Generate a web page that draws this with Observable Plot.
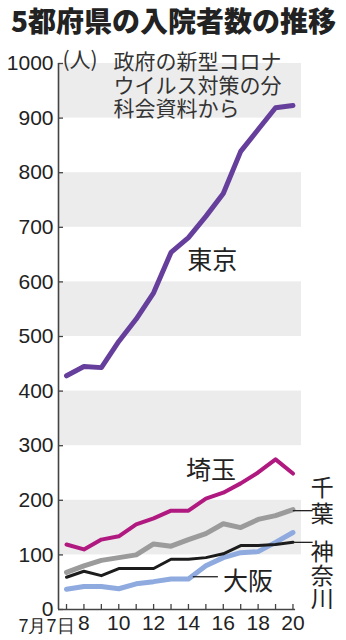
<!DOCTYPE html>
<html><head><meta charset="utf-8">
<script src="https://cdn.jsdelivr.net/npm/d3@7"></script>
<script src="https://cdn.jsdelivr.net/npm/@observablehq/plot@0.6"></script>
<style>
body{margin:0;background:#fff;width:346px;height:640px;overflow:hidden}
#title{height:40px;font-family:"Noto Sans CJK JP",sans-serif;font-weight:900;font-size:28px;line-height:40px;padding-left:11px;color:#222;white-space:nowrap}
#chart svg{display:block}
</style></head><body>
<div id="title">5都府県の入院者数の推移</div>
<div id="chart"></div>
<script>
// data (July 2020, day of month)
const days = [7, 8, 9, 10, 11, 12, 13, 14, 15, 16, 17, 18, 19, 20];
const tokyo    = [428, 445, 443, 491, 532, 580, 654, 681, 720, 762, 839, 879, 919, 923];
const saitama  = [119, 110, 128, 134, 156, 167, 181, 181, 203, 214, 231, 251, 275, 249];
const chiba    = [68, 80, 90, 95, 100, 120, 116, 128, 139, 157, 150, 165, 172, 183];
const kanagawa = [59, 70, 62, 75, 75, 75, 92, 92, 95, 102, 117, 117, 119, 123];
const osaka    = [37, 42, 42, 38, 47, 51, 56, 56, 80, 95, 104, 106, 123, 141];
const seriesNames = ["千葉", "大阪", "神奈川", "埼玉", "東京"];
const yTicks = [0, 100, 200, 300, 400, 500, 600, 700, 800, 900, 1000];
const xLabelTicks = [8, 10, 12, 14, 16, 18, 20];
const firstTickLabel = "7月7日";
const noteText = "政府の新型コロナ\nウイルス対策の分\n科会資料から";
const unitText = "(人)";

// label annotations (data coordinates)
const labels = [
  {text: "東京", x: 15.37, y: 639},
  {text: "埼玉", x: 15.3, y: 253},
  {text: "大阪", x: 17.42, y: 51}
];
const vLabels = [
  {text: "千葉", x: 21.68, y: 211, spacing: 3},
  {text: "神奈川", x: 21.68, y: 76, spacing: 0.5}
];
const leaders = [
  {x1: 14.28, x2: 15.72, y: 60},
  {x1: 20.02, x2: 21.16, y: 181},
  {x1: 20.02, x2: 21.16, y: 123}
];

const valuesByName = {"東京": tokyo, "埼玉": saitama, "千葉": chiba, "神奈川": kanagawa, "大阪": osaka};
const style = {
  "東京": {stroke: "#653f9b", w: 5},
  "埼玉": {stroke: "#b0197f", w: 4},
  "千葉": {stroke: "#9b9b9b", w: 5},
  "神奈川": {stroke: "#1c1c1c", w: 3},
  "大阪": {stroke: "#8eaadf", w: 5}
};
const rows = seriesNames.flatMap(n => days.map((d, i) => ({name: n, day: d, value: valuesByName[n][i]})));
const bands = d3.range(1, yTicks.length - 1, 2).map(i => ({y1: yTicks[i], y2: yTicks[i + 1]}));

const xMin = 6.54, xMax = 20.49;
const digitFont = "'Liberation Sans', Arial, sans-serif";
const cjkFont = "'Noto Sans CJK JP', sans-serif";

const lineMarks = seriesNames.map(n => Plot.line(rows.filter(r => r.name === n), {
  x: "day", y: "value", stroke: style[n].stroke, strokeWidth: style[n].w,
  strokeLinejoin: "round", strokeLinecap: "round"
}));

const chart = Plot.plot({
  width: 346, height: 600,
  marginLeft: 58, marginRight: 45, marginTop: 23, marginBottom: 31,
  style: {fontFamily: digitFont, fontSize: "21px", color: "#222", background: "#fff"},
  x: {domain: [xMin, xMax], axis: null},
  y: {domain: [0, 1000], axis: null},
  marks: [
    Plot.rect(bands, {x1: xMin, x2: xMax, y1: "y1", y2: "y2", fill: "#ececec"}),
    Plot.axisY({ticks: yTicks, tickSize: 5, dx: 5, fill: "none", stroke: "#444", strokeWidth: 1.3, label: null}),
    Plot.axisY({ticks: yTicks, tickSize: 0, tickPadding: 5, label: null, tickFormat: d => String(d), fill: "#222", fontSize: 21}),
    Plot.axisX({ticks: days, tickSize: 5, dy: -5, fill: "none", stroke: "#444", strokeWidth: 1.3, label: null}),
    Plot.axisX({ticks: xLabelTicks, tickSize: 0, tickPadding: 6, label: null, tickFormat: d => String(d), fill: "#222", fontSize: 21}),
    Plot.axisX({ticks: [days[0]], tickSize: 0, tickPadding: 10, label: null, tickFormat: () => firstTickLabel, textAnchor: "end", dx: 8, fill: "#222", fontSize: 18}),
    Plot.ruleX([xMin], {y1: 0, y2: 1000, stroke: "#444", strokeWidth: 1.6}),
    Plot.ruleY([0], {x1: xMin, x2: 20.15, stroke: "#444", strokeWidth: 1.6}),
    ...lineMarks,
    Plot.ruleY(leaders, {x1: "x1", x2: "x2", y: "y", stroke: "#222", strokeWidth: 1.3}),
    Plot.text([noteText], {frameAnchor: "top-left", dx: 55, dy: -11, lineAnchor: "top", textAnchor: "start", lineHeight: 1.12, fontSize: 21, fontFamily: cjkFont, fill: "#333"}),
    Plot.text([unitText], {frameAnchor: "top-left", dx: 4, dy: -11, lineAnchor: "top", textAnchor: "start", fontSize: 21, fontFamily: cjkFont, fill: "#333"}),
    Plot.text(labels, {x: "x", y: "y", text: "text", fontSize: 25, fontFamily: cjkFont, fill: "#222", lineAnchor: "middle"}),
    Plot.text(vLabels, {x: "x", y: "y", text: "text", fontSize: 23, fontFamily: cjkFont, fill: "#222", lineAnchor: "middle"})
  ]
});
// render the prefecture names on the right in vertical (tategaki) writing mode
const vTexts = new Map(vLabels.map(d => [d.text, d]));
d3.select(chart).selectAll("text").each(function() {
  const d = vTexts.get(this.textContent);
  if (!d) return;
  d3.select(this)
    .attr("writing-mode", "vertical-rl")
    .attr("dy", null)
    .style("letter-spacing", d.spacing + "px")
    .style("dominant-baseline", "central");
});
document.getElementById("chart").appendChild(chart);
</script>
</body></html>
